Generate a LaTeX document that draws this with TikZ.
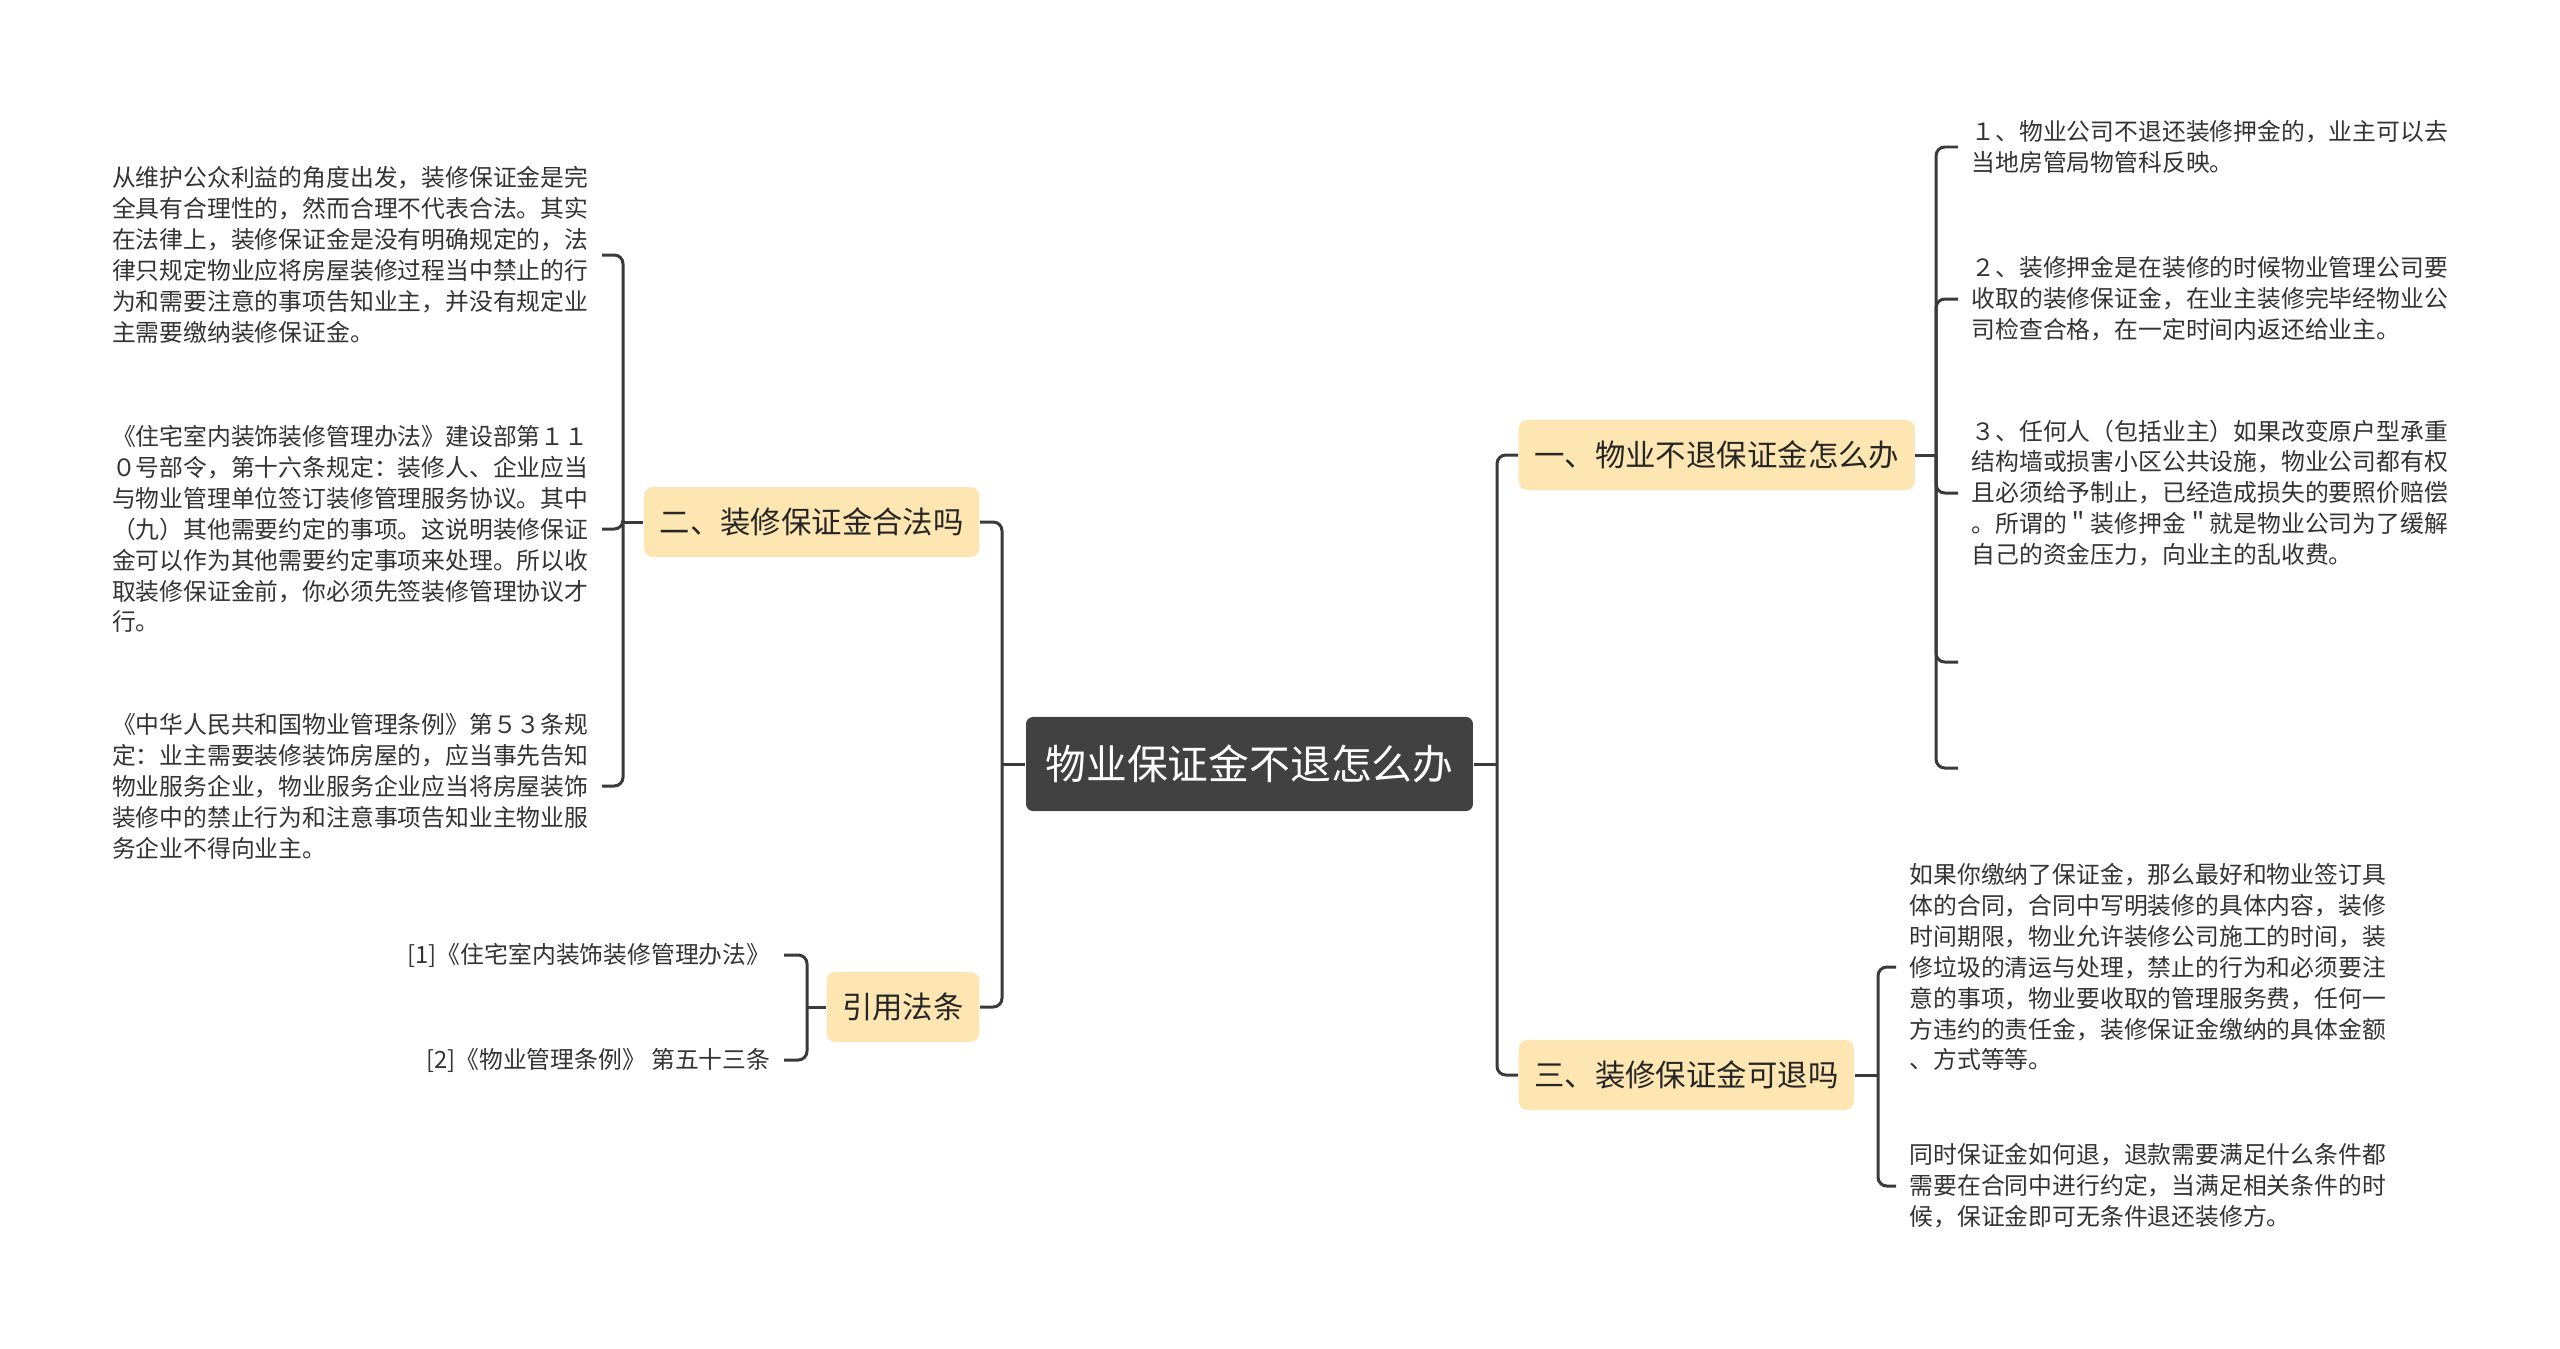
\documentclass[tikz,border=0pt]{standalone}
\usepackage{fontspec}
\setmainfont{Noto Sans CJK SC}
\usepackage{tikz}
\usetikzlibrary{positioning}
\definecolor{rootgray}{HTML}{414141}
\definecolor{branchfill}{HTML}{FDE6B1}
\definecolor{linegray}{HTML}{3A3A3A}
\definecolor{textgray}{HTML}{333333}

\begin{document}
\begin{tikzpicture}[x=0.01cm, y=-0.01cm,
    root/.style={fill=rootgray, text=white, rounded corners=2pt, minimum height=0.94cm, inner xsep=0.195cm, font=\fontsize{11.6}{13}\selectfont}, % 中心
    branch/.style={fill=branchfill, text=black!85, rounded corners=2.5pt, minimum height=0.70cm, inner xsep=0.155cm, font=\fontsize{8.65}{10}\selectfont},
    leaf/.style={text=textgray, align=left, inner xsep=0.13cm, inner ysep=0pt, font=\fontsize{6.77}{8.8}\selectfont},
    link/.style={draw=linegray, line width=0.85pt, rounded corners=2.5pt}
    ]
\useasboundingbox (0,0) rectangle (2560,1348);

\node[root] (root) at (1249.5,764) {物业保证金不退怎么办};

\node[branch, anchor=west] (b1) at (1518,455) {一、物业不退保证金怎么办};
\node[branch, anchor=west] (b3) at (1518,1075) {三、装修保证金可退吗};
\node[branch, anchor=east] (b2) at (980,522) {二、装修保证金合法吗};
\node[branch, anchor=east] (b4) at (980,1007) {引用法条};

\coordinate (rs) at (1497,764);
\coordinate (ls) at (1002,764);
\draw[link] (root.east) -- (rs);
\draw[link] (rs) |- (b1.west);
\draw[link] (rs) |- (b3.west);
\draw[link] (root.west) -- (ls);
\draw[link] (ls) |- (b2.east);
\draw[link] (ls) |- (b4.east);

% 一
\node[leaf, anchor=west] (l11) at (1958,147) {１、物业公司不退还装修押金的，业主可以去\\当地房管局物管科反映。};
\node[leaf, anchor=west] (l12) at (1958,299) {２、装修押金是在装修的时候物业管理公司要\\收取的装修保证金，在业主装修完毕经物业公\\司检查合格，在一定时间内返还给业主。};
\node[leaf, anchor=west] (l13) at (1958,493) {３、任何人（包括业主）如果改变原户型承重\\结构墙或损害小区公共设施，物业公司都有权\\且必须给予制止，已经造成损失的要照价赔偿\\。所谓的＂装修押金＂就是物业公司为了缓解\\自己的资金压力，向业主的乱收费。};
\node[leaf, anchor=west] (l14) at (1958,662) {};
\node[leaf, anchor=west] (l15) at (1958,768) {};
\coordinate (s1) at (1936,455);
\draw[link] (b1.east) -- (s1);
\foreach \n in {1,...,5}
    \draw[link] (s1) |- (l1\n.west);

% 三
\node[leaf, anchor=west] (l31) at (1896,967) {如果你缴纳了保证金，那么最好和物业签订具\\体的合同，合同中写明装修的具体内容，装修\\时间期限，物业允许装修公司施工的时间，装\\修垃圾的清运与处理，禁止的行为和必须要注\\意的事项，物业要收取的管理服务费，任何一\\方违约的责任金，装修保证金缴纳的具体金额\\、方式等等。};
\node[leaf, anchor=west] (l32) at (1896,1186) {同时保证金如何退，退款需要满足什么条件都\\需要在合同中进行约定，当满足相关条件的时\\候，保证金即可无条件退还装修方。};
\coordinate (s3) at (1878,1075);
\draw[link] (b3.east) -- (s3);
\foreach \n in {1,2}
    \draw[link] (s3) |- (l3\n.west);

% 二
\node[leaf, anchor=east] (l21) at (602,255) {从维护公众利益的角度出发，装修保证金是完\\全具有合理性的，然而合理不代表合法。其实\\在法律上，装修保证金是没有明确规定的，法\\律只规定物业应将房屋装修过程当中禁止的行\\为和需要注意的事项告知业主，并没有规定业\\主需要缴纳装修保证金。};
\node[leaf, anchor=east] (l22) at (602,529) {《住宅室内装饰装修管理办法》建设部第１１\\０号部令，第十六条规定：装修人、企业应当\\与物业管理单位签订装修管理服务协议。其中\\（九）其他需要约定的事项。这说明装修保证\\金可以作为其他需要约定事项来处理。所以收\\取装修保证金前，你必须先签装修管理协议才\\行。};
\node[leaf, anchor=east] (l23) at (602,786) {《中华人民共和国物业管理条例》第５３条规\\定：业主需要装修装饰房屋的，应当事先告知\\物业服务企业，物业服务企业应当将房屋装饰\\装修中的禁止行为和注意事项告知业主物业服\\务企业不得向业主。};
\coordinate (s2) at (623,522);
\draw[link] (b2.west) -- (s2);
\foreach \n in {1,2,3}
    \draw[link] (s2) |- (l2\n.east);

% 引用
\node[leaf, anchor=east] (l41) at (784,955) {[1]《住宅室内装饰装修管理办法》};
\node[leaf, anchor=east] (l42) at (784,1060) {[2]《物业管理条例》 第五十三条};
\coordinate (s4) at (807,1007);
\draw[link] (b4.west) -- (s4);
\foreach \n in {1,2}
    \draw[link] (s4) |- (l4\n.east);
\end{tikzpicture}
\end{document}
